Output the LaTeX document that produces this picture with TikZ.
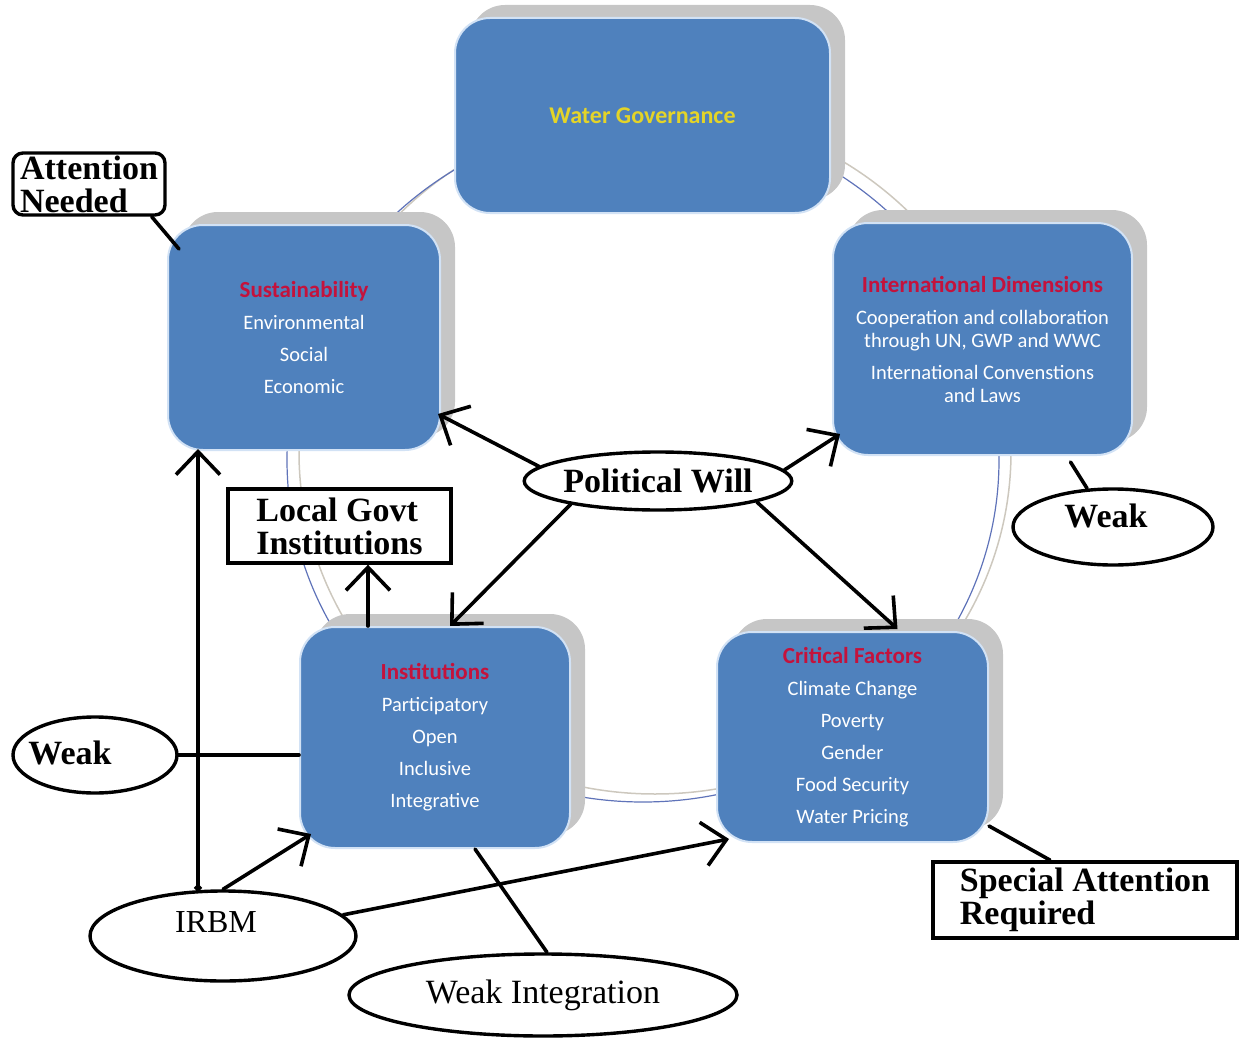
\documentclass[tikz,border=0pt]{standalone}
\usepackage{fontspec}
\usetikzlibrary{shapes.geometric,arrows.meta,shadows}
\newfontfamily\boxfont{Carlito}
\newfontfamily\annfont{Liberation Serif}
\definecolor{boxblue}{RGB}{79,129,189}
\definecolor{boxedge}{RGB}{210,226,245}
\definecolor{shadowgrey}{RGB}{198,198,198}
\definecolor{titlered}{RGB}{196,18,60}
\definecolor{govyellow}{RGB}{228,212,40}
\definecolor{ringblue}{RGB}{95,115,185}
\definecolor{ringgrey}{RGB}{205,200,190}
\newcommand\bxtitle[1]{{\color{titlered}\bfseries\fontsize{23}{32}\selectfont #1}}

\begin{document}
\begin{tikzpicture}[x=1pt,y=-1pt,
  blockbox/.style={rectangle, rounded corners=35pt, fill=boxblue, draw=boxedge, line width=2pt,
    general shadow={fill=shadowgrey, shadow xshift=15pt, shadow yshift=13pt},
    align=center, inner sep=0pt, text=white, font=\boxfont\fontsize{20.5}{32}\selectfont},
  conn/.style={line width=3.6pt, line cap=round},
  barb/.style={-{Straight Barb[length=23pt,width=44pt]}},
  oval/.style={ellipse, draw, line width=3.4pt, fill=white, inner sep=0pt},
  tag/.style={rectangle, draw, line width=3.4pt, fill=white, align=left, inner sep=0pt},
  annot/.style={font=\annfont\bfseries\fontsize{34}{33}\selectfont},
  annotreg/.style={font=\annfont\fontsize{34}{33}\selectfont},
]
\useasboundingbox (0,0) rectangle (1240,1038);

% thin double ring behind the blocks
\draw[ringgrey, line width=1.5pt] (655,452) ellipse [x radius=356pt, y radius=342pt];
\draw[ringblue, line width=1.2pt] (643,460) ellipse [x radius=356pt, y radius=342pt];

% blue blocks
\node[blockbox, minimum width=375pt, minimum height=195pt] (gov) at (642.5,115.5)
  {\textcolor{govyellow}{\bfseries\fontsize{24}{28}\selectfont Water Governance}};
\node[blockbox, minimum width=272pt, minimum height=225pt] (sus) at (304,337.5)
  {\bxtitle{Sustainability}\\Environmental\\Social\\Economic};
\node[blockbox, minimum width=299pt, minimum height=232pt] (intl) at (982.5,339)
  {\bxtitle{International Dimensions}\\Cooperation and collaboration\\[-9pt]through UN, GWP and WWC\\International Convenstions\\[-9pt]and Laws};
\node[blockbox, minimum width=270pt, minimum height=221pt] (inst) at (435,737.5)
  {\bxtitle{Institutions}\\Participatory\\Open\\Inclusive\\Integrative};
\node[blockbox, minimum width=271pt, minimum height=210pt] (crit) at (852.5,737)
  {\bxtitle{Critical Factors}\\Climate Change\\Poverty\\Gender\\Food Security\\Water Pricing};

% ovals
\node[oval, minimum width=264pt, minimum height=58pt, annot] (pw) at (658,481) {Political Will};
\node[oval, minimum width=200pt, minimum height=76pt] (weakR) at (1113,527) {};
\node[annot] (weakRtxt) at (1106,516) {Weak};
\node[oval, minimum width=164pt, minimum height=76pt] (weakL) at (95,755) {};
\node[annot] (weakLtxt) at (70,753) {Weak};
\node[oval, minimum width=266pt, minimum height=90pt] (irbm) at (223,936) {};
\node[annotreg, font=\annfont\fontsize{32}{33}\selectfont] (irbmtxt) at (216,922) {IRBM};
\node[oval, minimum width=388pt, minimum height=82pt, annotreg] (wint) at (543,995) {Weak Integration};

% boxed notes
\node[tag, rounded corners=10pt, minimum width=152pt, minimum height=62pt, annot] (attn) at (89,184) {Attention\\Needed};
\node[tag, minimum width=223pt, minimum height=74pt, annot] (lgi) at (339.5,526) {Local Govt\\Institutions};
\node[tag, line width=3.8pt, minimum width=304pt, minimum height=76pt, annot] (sat) at (1085,900) {Special Attention\\Required};

% connectors
\draw[conn] ([shift={(-15,0)}]attn.south east) -- ([shift={(12,25)}]sus.north west);
\draw[conn, barb] (pw.173) -- ([shift={(-3,-37)}]sus.south east);
\draw[conn, barb] (pw.5) -- ([shift={(8,-22)}]intl.south west);
\draw[conn, barb] (pw.195) -- ([shift={(15,0)}]inst.north);
\draw[conn, barb] (pw.-12) -- ([shift={(45,-2)}]crit.north);
\draw[conn, barb] ([shift={(-67,0)}]inst.north) -- ([shift={(28.5,0)}]lgi.south);
\draw[conn, {Circle[length=7pt]}-{Straight Barb[length=23pt,width=44pt]}]
  ([shift={(-25,2)}]irbm.north) -- ([shift={(-106,-2)}]sus.south);
\draw[conn, barb] (irbm.north) -- ([shift={(12,-15)}]inst.south west);
\draw[conn, barb] (irbm.10) -- ([shift={(13,-4)}]crit.south west);
\draw[conn] (weakL.east) -- (weakL.east -| inst.west);
\draw[conn] ([shift={(40,0)}]inst.south) -- ([shift={(4,0)}]wint.north);
\draw[conn] ([shift={(88,6)}]intl.south) -- ([shift={(-26,1)}]weakR.north);
\draw[conn] ([shift={(0,-17)}]crit.south east) -- ([shift={(-35,0)}]sat.north);
\end{tikzpicture}
\end{document}
